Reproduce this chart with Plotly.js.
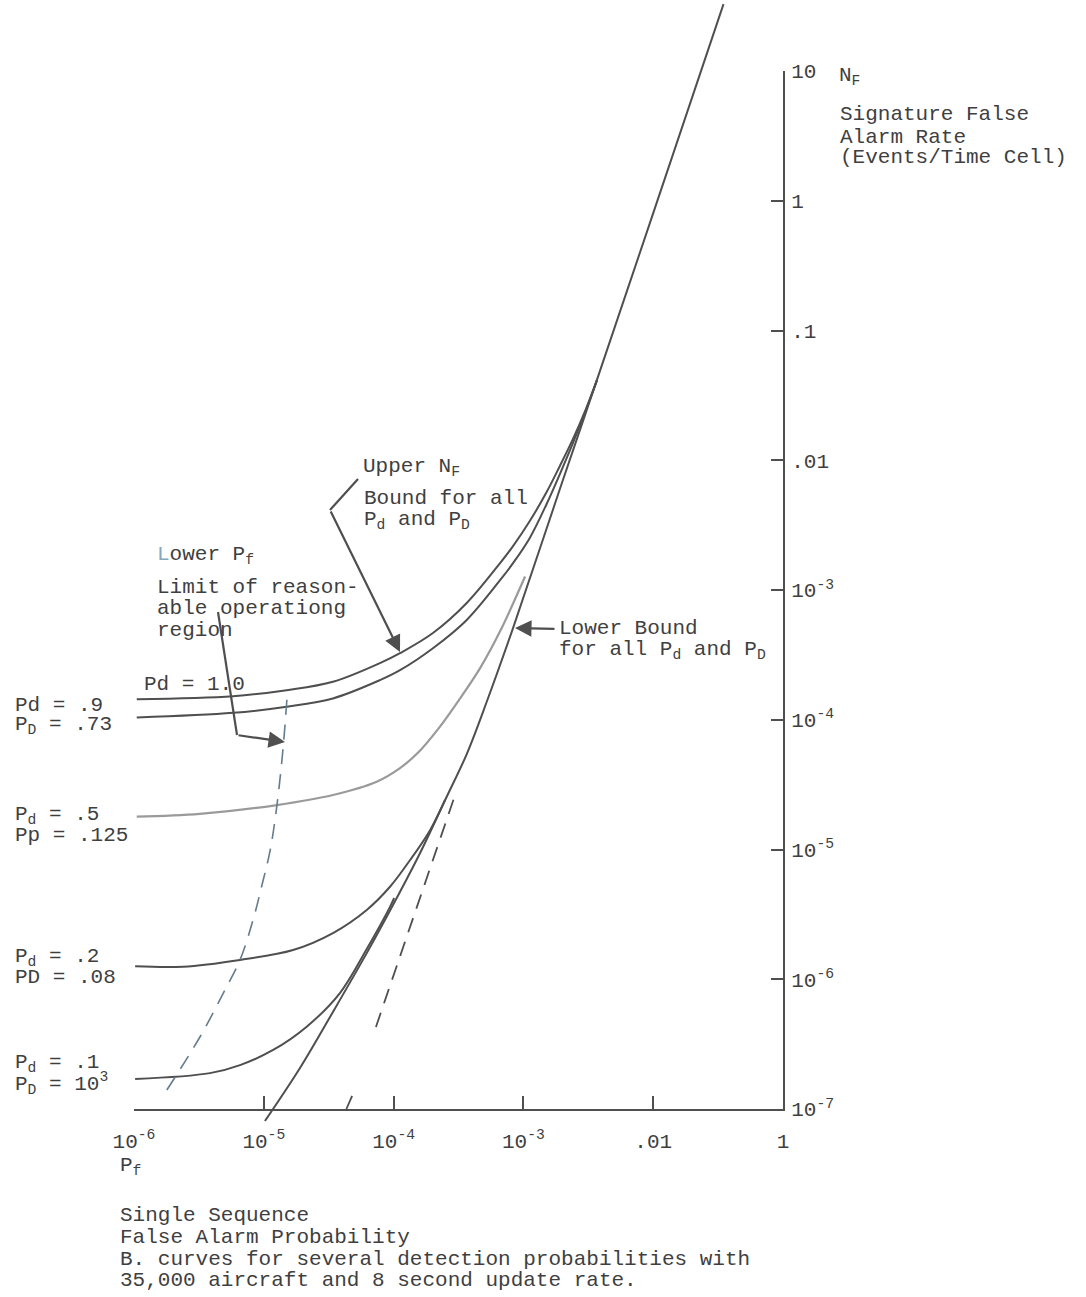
<!DOCTYPE html>
<html>
<head>
<meta charset="utf-8">
<script src="https://cdn.plot.ly/plotly-3.0.1.min.js"></script>
<style>
  html, body { margin: 0; padding: 0; background: #ffffff; }
  #chart { width: 1086px; height: 1297px; }
</style>
</head>
<body>
<div id="chart"></div>
<script>
// Single-sequence false alarm probability Pf (x) vs. signature false alarm rate NF (y)

// Pd = 1.0 (upper NF bound)
const pfPd100 = [1.05e-6, 5.8e-6, 1.5e-5, 3.41e-5, 7.85e-5, 1.12e-4, 2.01e-4, 3.66e-4, 6.61e-4, 8.32e-4, 1.12e-3, 1.51e-3, 1.91e-3, 2.41e-3, 3.03e-3, 3.69e-3];
const nfPd100 = [1.44e-4, 1.52e-4, 1.69e-4, 1.96e-4, 2.73e-4, 3.26e-4, 4.66e-4, 7.94e-4, 1.61e-3, 2.18e-3, 3.40e-3, 5.69e-3, 9.04e-3, 1.46e-2, 2.48e-2, 4.15e-2];

// Pd = .9, PD = .73
const pfPd90 = [1.05e-6, 5.8e-6, 1.5e-5, 3.41e-5, 7.85e-5, 1.12e-4, 2.01e-4, 3.66e-4, 6.61e-4, 8.32e-4, 1.12e-3, 1.51e-3, 1.91e-3, 2.41e-3, 3.03e-3, 3.69e-3];
const nfPd90 = [1.04e-4, 1.13e-4, 1.26e-4, 1.46e-4, 2.02e-4, 2.41e-4, 3.56e-4, 5.88e-4, 1.19e-3, 1.61e-3, 2.52e-3, 4.60e-3, 7.83e-3, 1.36e-2, 2.44e-2, 4.15e-2];

// Pd = .5, PD = .125
const pfPd50 = [1.05e-6, 3.22e-6, 1.26e-5, 3.41e-5, 7.41e-5, 1.12e-4, 1.56e-4, 2.23e-4, 3.19e-4, 4.64e-4, 6.61e-4, 1.03e-3];
const nfPd50 = [1.79e-5, 1.88e-5, 2.20e-5, 2.63e-5, 3.33e-5, 4.24e-5, 5.64e-5, 8.62e-5, 1.42e-4, 2.50e-4, 4.80e-4, 1.27e-3];

// Pd = .2, PD = .08
const pfPd20 = [1.02e-6, 2.39e-6, 6.56e-6, 1.68e-5, 3.41e-5, 6.21e-5, 9.38e-5, 1.34e-4, 1.91e-4, 2.49e-4];
const nfPd20 = [1.26e-6, 1.25e-6, 1.41e-6, 1.68e-6, 2.27e-6, 3.42e-6, 5.16e-6, 8.30e-6, 1.41e-5, 2.41e-5];

// Pd = .1, PD = 10^3
const pfPd10 = [1.02e-6, 3.85e-6, 6.56e-6, 1.18e-5, 2.14e-5, 3.86e-5, 6.21e-5, 9.38e-5, 1.01e-4];
const nfPd10 = [1.70e-7, 1.89e-7, 2.18e-7, 2.85e-7, 4.31e-7, 7.83e-7, 1.71e-6, 3.61e-6, 4.23e-6];

// Lower bound for all Pd and PD (continues as the common asymptote)
const pfLower = [1.02e-5, 1.90e-5, 3.41e-5, 6.21e-5, 9.89e-5, 1.60e-4, 2.56e-4, 3.66e-4, 5.21e-4, 8.32e-4, 1.91e-3, 3.89e-3, 9.44e-3, 3.48e-2];
const nfLower = [8.08e-8, 2.07e-7, 5.60e-7, 1.59e-6, 3.73e-6, 9.40e-6, 2.54e-5, 5.44e-5, 1.37e-4, 5.09e-4, 6.00e-3, 4.88e-2, 0.675, 32.8];

// Lower Pf limit of reasonable operating region (dashed)
const pfLimit = [1.79e-6, 3.22e-6, 5.02e-6, 6.56e-6, 8.26e-6, 9.68e-6, 1.12e-5, 1.26e-5, 1.41e-5, 1.52e-5];
const nfLimit = [1.40e-7, 3.59e-7, 8.26e-7, 1.41e-6, 2.86e-6, 5.32e-6, 9.89e-6, 2.16e-5, 6.15e-5, 1.63e-4];

// Dashed asymptote to the right of the lower bound
const pfAsymA = [4.33e-5, 4.79e-5];
const nfAsymA = [1.0e-7, 1.26e-7];
const pfAsymB = [7.31e-5, 3.03e-4];
const nfAsymB = [4.29e-7, 2.77e-5];

// Axis ticks
const xTickVals = [1e-6, 1e-5, 1e-4, 1e-3, 1e-2, 1e-1];
const xTickText = ['10<sup>-6</sup>', '10<sup>-5</sup>', '10<sup>-4</sup>', '10<sup>-3</sup>', '.01', '1'];
const yTickVals = [1e-7, 1e-6, 1e-5, 1e-4, 1e-3, 1e-2, 1e-1, 1, 10];
const yTickText = ['10<sup>-7</sup>', '10<sup>-6</sup>', '10<sup>-5</sup>', '10<sup>-4</sup>', '10<sup>-3</sup>', '.01', '.1', '1', '10'];

// ---- layout geometry ----
const W = 1086, H = 1297;
const BOX = { left: 134, right: 783, top: 71, bottom: 1109 };
const dx = (BOX.right - BOX.left) / 5;   // px per decade on x
const dy = (BOX.bottom - BOX.top) / 8;   // px per decade on y

const INK = '#4f4f4f';
const FONT = { family: 'Liberation Mono, DejaVu Sans Mono, monospace', size: 21, color: '#3f3f3f' };

function px(x, y) { return { x: x / W, y: 1 - y / H }; }

function label(x, y, text, extra) {
  const p = px(x, y);
  return Object.assign({
    x: p.x, y: p.y, xref: 'paper', yref: 'paper',
    xanchor: 'left', yanchor: 'middle', showarrow: false,
    text: text, font: FONT, align: 'left'
  }, extra || {});
}

function arrow(hx, hy, tx, ty) {
  const p = px(hx, hy);
  return {
    x: p.x, y: p.y, xref: 'paper', yref: 'paper',
    ax: tx - hx, ay: ty - hy, text: '', showarrow: true,
    arrowhead: 2, arrowsize: 1.5, arrowwidth: 2.2, arrowcolor: INK
  };
}

function seg(x0, y0, x1, y1) {
  const a = px(x0, y0), b = px(x1, y1);
  return { type: 'line', xref: 'paper', yref: 'paper', x0: a.x, y0: a.y, x1: b.x, y1: b.y,
           line: { color: INK, width: 2.2 } };
}

function curve(x, y, axes, line) {
  return {
    type: 'scatter', mode: 'lines', x: x, y: y,
    xaxis: axes[0], yaxis: axes[1],
    line: Object.assign({ color: INK, width: 2, shape: 'spline', smoothing: 1 }, line || {}),
    hoverinfo: 'skip', showlegend: false
  };
}

const inner = ['x', 'y'];
const full = ['x2', 'y2'];

const traces = [
  curve(pfPd90, nfPd90, inner),
  curve(pfPd50, nfPd50, inner, { color: '#9a9a9a', width: 2.2 }),
  curve(pfPd20, nfPd20, inner),
  curve(pfPd10, nfPd10, inner),
  curve(pfLimit, nfLimit, inner, { color: '#647c8c', width: 1.6, dash: '15px,10px' }),
  curve(pfPd100, nfPd100, full),
  curve(pfLower, nfLower, full),
  curve(pfAsymA, nfAsymA, full, { width: 1.8, shape: 'linear' }),
  curve(pfAsymB, nfAsymB, full, { width: 1.8, shape: 'linear', dash: '15px,10px' })
];

const tickFont = FONT;

const layout = {
  width: W, height: H, autosize: false,
  margin: { l: 0, r: 0, t: 0, b: 0, pad: 0 },
  paper_bgcolor: '#ffffff', plot_bgcolor: 'rgba(0,0,0,0)',
  showlegend: false,
  xaxis: {
    type: 'log', domain: [BOX.left / W, BOX.right / W], range: [-6, -1],
    anchor: 'y', side: 'bottom',
    tickmode: 'array', tickvals: xTickVals, ticktext: xTickText,
    ticks: 'inside', ticklen: 13, tickwidth: 2, tickcolor: INK,
    showline: true, linecolor: INK, linewidth: 2, mirror: false,
    showgrid: false, zeroline: false, tickfont: tickFont, ticklabelstandoff: 12
  },
  yaxis: {
    type: 'log', domain: [1 - BOX.bottom / H, 1 - BOX.top / H], range: [-7, 1],
    anchor: 'x', side: 'right',
    tickmode: 'array', tickvals: yTickVals, ticktext: yTickText,
    ticks: 'inside', ticklen: 12, tickwidth: 2, tickcolor: INK,
    showline: true, linecolor: INK, linewidth: 2, mirror: false,
    showgrid: false, zeroline: false, tickfont: tickFont, ticklabelstandoff: 2
  },
  xaxis2: {
    type: 'log', domain: [0, 1], anchor: 'y2', visible: false,
    range: [-6 - BOX.left / dx, -1 + (W - BOX.right) / dx]
  },
  yaxis2: {
    type: 'log', domain: [0, 1], anchor: 'x2', visible: false,
    range: [-7 - (H - BOX.bottom) / dy, 1 + BOX.top / dy]
  },
  shapes: [
    seg(358, 479, 330, 510),
    seg(218, 612, 237, 735)
  ],
  annotations: [
    // right axis title
    label(837, 76, 'N<sub>F</sub>'),
    label(838, 115, 'Signature False'),
    label(838, 137, 'Alarm Rate'),
    label(838, 158, '(Events/Time Cell)'),

    // upper bound callout
    label(361, 467, 'Upper N<sub>F</sub>'),
    label(362, 499, 'Bound for all'),
    label(362, 520, 'P<sub>d</sub> and P<sub>D</sub>'),
    arrow(400, 652, 330, 510),

    // lower Pf limit callout
    label(155, 555, '<span style="color:#86a8ba">L</span>ower P<sub>f</sub>'),
    label(155, 587, 'Limit of reason-'),
    label(155, 608, 'able operationg'),
    label(155, 630, 'region'),
    arrow(285, 742, 237, 735),

    // lower bound callout
    label(557, 628, 'Lower Bound'),
    label(557, 650, 'for all P<sub>d</sub> and P<sub>D</sub>'),
    arrow(515, 628, 556, 629),

    // curve labels
    label(142, 684, 'Pd = 1.0'),
    label(13, 705, 'Pd = .9'),
    label(13, 725, 'P<sub>D</sub> = .73'),
    label(13, 815, 'P<sub>d</sub> = .5'),
    label(13, 835, 'Pp = .125'),
    label(13, 957, 'P<sub>d</sub> = .2'),
    label(13, 977, 'PD = .08'),
    label(13, 1063, 'P<sub>d</sub> = .1'),
    label(13, 1083, 'P<sub>D</sub> = 10<sup>3</sup>'),

    // x axis title and caption
    label(118, 1166, 'P<sub>f</sub>'),
    label(118, 1215, 'Single Sequence'),
    label(118, 1237, 'False Alarm Probability'),
    label(118, 1259, 'B. curves for several detection probabilities with'),
    label(118, 1280, '35,000 aircraft and 8 second update rate.')
  ]
};

Plotly.newPlot('chart', traces, layout, { staticPlot: true, displayModeBar: false });
</script>
</body>
</html>
